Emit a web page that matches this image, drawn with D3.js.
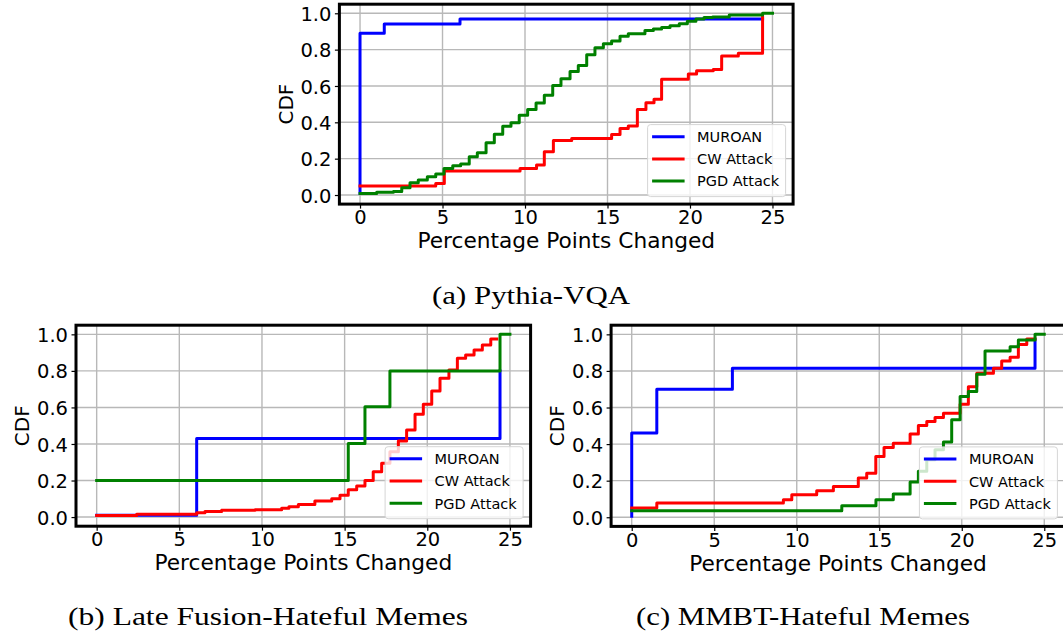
<!DOCTYPE html>
<html>
<head>
<meta charset="utf-8">
<script src="https://cdn.jsdelivr.net/npm/d3@7/dist/d3.min.js"></script>
<style>
  html, body { margin: 0; padding: 0; background: #fff; }
  svg { display: block; }
</style>
</head>
<body>
<svg id="fig" width="1063" height="635"></svg>
<script>
// ---- data: step points [x, cdf] (x = percentage points changed) ----
const xTicks = [0, 5, 10, 15, 20, 25];
const yTicks = [0, 0.2, 0.4, 0.6, 0.8, 1.0];
const yTickLabels = ["0.0", "0.2", "0.4", "0.6", "0.8", "1.0"];
const seriesNames = ["MUROAN", "CW Attack", "PGD Attack"];
const xLabel = "Percentage Points Changed";
const yLabel = "CDF";

// (a) Pythia-VQA
const muroanPythia = [[0,0.01],[0,0.89],[1.47,0.941],[6.06,0.969],[24.4,0.969]];
const cwPythia = [[0,0.049],[4.59,0.064],[5.11,0.132],[9.7,0.146],[10.7,0.165],[11.17,0.238],
  [11.72,0.30],[12.83,0.311],[15.25,0.333],[15.76,0.366],[16.26,0.38],[16.81,0.47],[17.33,0.508],
  [17.82,0.527],[18.28,0.637],[19.9,0.666],[20.4,0.684],[21.41,0.691],[21.92,0.765],[22.93,0.78],
  [24.4,0.99]];
const pgdPythia = [[0,0.009],[1.01,0.015],[2.02,0.02],[2.53,0.04],[3.03,0.068],[3.53,0.083],
  [4.08,0.1],[4.59,0.115],[5.09,0.146],[5.62,0.161],[6.1,0.17],[6.62,0.21],[7.11,0.232],
  [7.64,0.287],[8.14,0.335],[8.65,0.378],[9.15,0.397],[9.65,0.439],[10.16,0.47],[10.67,0.506],
  [11.17,0.549],[11.68,0.603],[12.18,0.64],[12.73,0.68],[13.23,0.713],[13.74,0.772],[14.24,0.81],
  [14.75,0.832],[15.25,0.848],[15.76,0.874],[16.26,0.888],[17.27,0.905],[17.78,0.913],
  [18.28,0.922],[18.79,0.932],[19.35,0.942],[19.84,0.956],[20.36,0.968],[20.85,0.977],
  [21.37,0.98],[22.38,0.991],[24.4,1.0],[25,1.0]];

// (b) Late Fusion-Hateful Memes
const muroanLateFusion = [[0,0.01],[6.05,0.43],[24.4,0.8]];
const cwLateFusion = [[0,0.009],[2.42,0.016],[6.05,0.024],[6.55,0.031],[7.56,0.037],[9.58,0.04],
  [11.19,0.048],[11.63,0.056],[12.2,0.069],[13.2,0.088],[14.22,0.1],[14.72,0.12],[15.22,0.15],
  [15.73,0.17],[16.23,0.2],[16.73,0.248],[17.24,0.294],[17.74,0.357],[18.25,0.416],[18.75,0.476],
  [19.26,0.562],[19.76,0.617],[20.27,0.69],[20.77,0.759],[21.31,0.805],[21.82,0.869],[22.32,0.887],
  [22.83,0.914],[23.33,0.941],[23.84,0.974],[24.2,0.974]];
const pgdLateFusion = [[0,0.2],[15.22,0.403],[16.23,0.604],[17.74,0.8],[24.4,1.0],[25,1.0]];

// (c) MMBT-Hateful Memes
const muroanMMBT = [[0,0.005],[0,0.46],[1.52,0.70],[6.1,0.815],[24.44,0.97]];
const cwMMBT = [[0,0.05],[1.52,0.078],[9.19,0.096],[9.7,0.123],[11.21,0.145],[12.22,0.168],
  [13.73,0.214],[14.24,0.241],[14.79,0.332],[15.29,0.382],[15.85,0.405],[16.87,0.455],[17.37,0.502],
  [17.88,0.524],[18.38,0.545],[18.89,0.569],[19.9,0.618],[20.4,0.714],[20.91,0.787],[21.92,0.815],
  [22.42,0.854],[22.93,0.875],[23.43,0.945],[23.94,0.974],[24.44,0.974]];
const pgdMMBT = [[0,0.036],[12.73,0.063],[14.8,0.096],[15.85,0.127],[16.87,0.193],[17.37,0.251],
  [17.88,0.315],[18.38,0.369],[18.89,0.411],[19.39,0.533],[19.9,0.66],[20.4,0.687],[20.91,0.782],
  [21.41,0.909],[22.93,0.932],[23.43,0.969],[24.44,1.0],[25,1.0]];

const captions = ["(a) Pythia-VQA", "(b) Late Fusion-Hateful Memes", "(c) MMBT-Hateful Memes"];

// ---- layout ----
const colors = ["#0000ff", "#ff0000", "#008000"];
const panels = [
  { box: [339.4, 4.2, 793.1, 204.1], series: [muroanPythia, cwPythia, pgdPythia],
    caption: { text: captions[0], x: 432, y: 303.5, w: 198 } },
  { box: [76.0, 325.2, 530.6, 526.2], series: [muroanLateFusion, cwLateFusion, pgdLateFusion],
    caption: { text: captions[1], x: 68, y: 625, w: 400 } },
  { box: [611.1, 325.2, 1064.9, 526.4], series: [muroanMMBT, cwMMBT, pgdMMBT],
    caption: { text: captions[2], x: 636, y: 625, w: 334 } }
];

const svg = d3.select("#fig");
const sans = "'DejaVu Sans', sans-serif";

panels.forEach((p, i) => {
  const [L, T, R, B] = p.box;
  const x = d3.scaleLinear().domain([-1.25, 26.25]).range([L, R]);
  const y = d3.scaleLinear().domain([-0.05, 1.05]).range([B, T]);
  const g = svg.append("g");

  const clipId = "clip" + i;
  g.append("clipPath").attr("id", clipId)
    .append("rect").attr("x", L).attr("y", T).attr("width", R - L).attr("height", B - T);

  // grid
  g.append("g").selectAll("line").data(xTicks).join("line")
    .attr("x1", d => x(d)).attr("x2", d => x(d)).attr("y1", T).attr("y2", B)
    .attr("stroke", "#b8b8b8").attr("stroke-width", 1.4);
  g.append("g").selectAll("line").data(yTicks).join("line")
    .attr("y1", d => y(d)).attr("y2", d => y(d)).attr("x1", L).attr("x2", R)
    .attr("stroke", "#b8b8b8").attr("stroke-width", 1.4);

  // CDF step curves
  const line = d3.line().x(d => x(d[0])).y(d => y(d[1])).curve(d3.curveStepAfter);
  g.append("g").attr("clip-path", `url(#${clipId})`)
    .selectAll("path").data(p.series).join("path")
    .attr("d", line).attr("fill", "none")
    .attr("stroke", (d, k) => colors[k]).attr("stroke-width", 3)
    .attr("stroke-linejoin", "round").attr("stroke-linecap", "square");

  // axes (ticks + labels)
  const xAxis = d3.axisBottom(x).tickValues(xTicks).tickSize(4.5).tickPadding(3).tickFormat(d3.format("d"));
  const yAxis = d3.axisLeft(y).tickValues(yTicks).tickSize(4.5).tickPadding(3.5)
    .tickFormat((d, k) => yTickLabels[k]);
  const gx = g.append("g").attr("transform", `translate(0,${B})`).call(xAxis);
  const gy = g.append("g").attr("transform", `translate(${L},0)`).call(yAxis);
  [gx, gy].forEach(a => {
    a.select(".domain").remove();
    a.selectAll(".tick line").attr("stroke", "#000").attr("stroke-width", 1.2);
    a.selectAll(".tick text").attr("fill", "#000")
      .style("font-family", sans).style("font-size", "19.5px");
  });
  gx.selectAll(".tick text").attr("dy", null).attr("y", 20.2).attr("dominant-baseline", "auto");
  gy.selectAll(".tick text").attr("dy", "0.36em");

  // spines
  g.append("rect").attr("x", L).attr("y", T).attr("width", R - L).attr("height", B - T)
    .attr("fill", "none").attr("stroke", "#000").attr("stroke-width", 3);

  // axis labels
  g.append("text").attr("x", (L + R) / 2).attr("y", B + 44.2)
    .attr("text-anchor", "middle").style("font-family", sans).style("font-size", "21.7px")
    .text(xLabel);
  g.append("text").attr("transform", `translate(${L - 54},${(T + B) / 2}) rotate(-90)`)
    .attr("dy", "0.365em").attr("text-anchor", "middle")
    .style("font-family", sans).style("font-size", "20px").text(yLabel);

  // legend (lower right)
  const lw = 138, lh = 72;
  const lx = R - 7.5 - lw, ly = B - 7.5 - lh;
  const leg = g.append("g");
  leg.append("rect").attr("x", lx).attr("y", ly).attr("width", lw).attr("height", lh)
    .attr("rx", 3).attr("fill", "#fff").attr("fill-opacity", 0.8)
    .attr("stroke", "#d6d6d6").attr("stroke-width", 1);
  seriesNames.forEach((name, k) => {
    const ry = ly + 12.1 + k * 22.2;
    leg.append("line").attr("x1", lx + 4.5).attr("x2", lx + 37).attr("y1", ry).attr("y2", ry)
      .attr("stroke", colors[k]).attr("stroke-width", 3);
    leg.append("text").attr("x", lx + 49.5).attr("y", ry).attr("dy", "0.37em")
      .style("font-family", sans).style("font-size", "14.5px").text(name);
  });

  // sub-figure caption
  svg.append("text").attr("x", p.caption.x).attr("y", p.caption.y)
    .attr("textLength", p.caption.w).attr("lengthAdjust", "spacingAndGlyphs")
    .style("font-family", "'Liberation Serif', serif").style("font-size", "26px")
    .text(p.caption.text);
});
</script>
</body>
</html>
